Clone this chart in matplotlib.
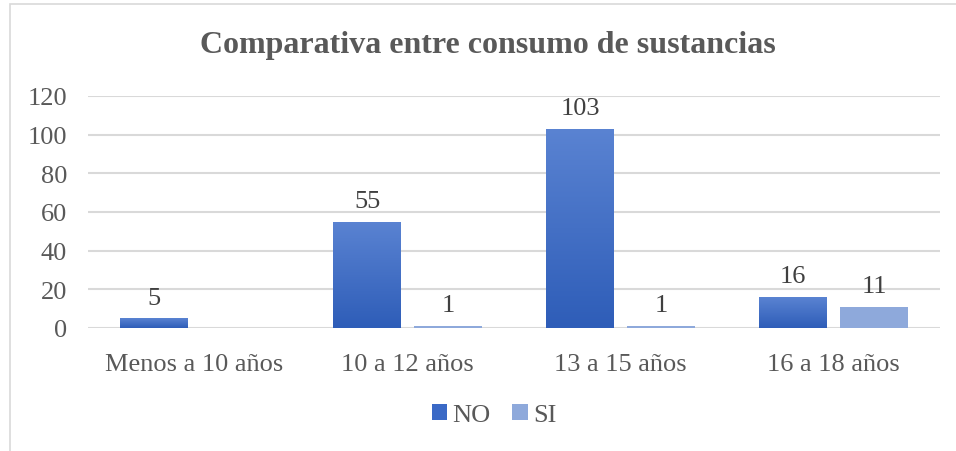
import matplotlib
matplotlib.use("Agg")
import matplotlib.pyplot as plt
import numpy as np
from matplotlib.patches import Rectangle
from matplotlib.colors import LinearSegmentedColormap

categories = ["Menos a 10 años", "10 a 12 años", "13 a 15 años", "16 a 18 años"]
no_vals = [5, 55, 103, 16]
si_vals = [0, 1, 1, 11]
no_labels = ["5", "55", "103", "16"]
si_labels = ["", "1", "1", "11"]
yticks = [0, 20, 40, 60, 80, 100, 120]

W, H = 956, 452
fig = plt.figure(figsize=(W/100, H/100), dpi=100)
plt.rcParams['font.family'] = ['Liberation Serif', 'DejaVu Serif']
txt = '#595959'
fs = 19

# outer chart frame
fig.patches.append(Rectangle((10/W, -0.1), 1.2, 1.1 - 5/H, transform=fig.transFigure,
                             fill=False, edgecolor='#D9D9D9', linewidth=1.2))

ax = fig.add_axes([88/W, 1-329/H, (940-88)/W, (329-97)/H])
for s in ax.spines.values():
    s.set_visible(False)
ax.set_yticks(yticks)
ax.set_yticklabels([str(v) for v in yticks])
ax.yaxis.grid(True, color='#D9D9D9', linewidth=1.5)
ax.set_axisbelow(True)
ax.tick_params(axis='both', length=0, labelsize=fs, colors=txt)
ax.tick_params(axis='y', pad=15)
ax.tick_params(axis='x', pad=18)
x = np.arange(len(categories))
ax.set_xticks(x)
ax.set_xticklabels(categories)

bw = 0.315
off = 0.19
grad = np.linspace(0, 1, 256).reshape(-1, 1)
cmap_no = LinearSegmentedColormap.from_list('no', ['#2E5DB8', '#5A83D2'])

bars_no = ax.bar(x - off, no_vals, bw, color='#3A69C6', zorder=2)
bars_si = ax.bar(x + off, si_vals, bw, color='#8EA9DB', zorder=2)
for b in bars_no:
    bx, by = b.get_x(), b.get_y()
    bwid, bh = b.get_width(), b.get_height()
    im = ax.imshow(grad, extent=[bx, bx + bwid, by, by + bh], origin='lower',
                   cmap=cmap_no, aspect='auto', zorder=3)
    im.set_clip_path(b)
ax.set_xlim(-0.5, 3.5)
ax.set_ylim(0, 120)

for xi, v, lab in zip(x, no_vals, no_labels):
    ax.annotate(lab, (xi - off, v), xytext=(0, 7), textcoords='offset points',
                ha='center', va='bottom', fontsize=fs, color='#404040')
for xi, v, lab in zip(x, si_vals, si_labels):
    if lab:
        ax.annotate(lab, (xi + off, v), xytext=(0, 7), textcoords='offset points',
                    ha='center', va='bottom', fontsize=fs, color='#404040')

fig.text(488/W, 1-46/H, "Comparativa entre consumo de sustancias", ha='center', va='center',
         fontsize=23, fontweight='bold', color=txt)

leg = fig.legend([bars_no, bars_si], ["NO", "SI"], loc='center', bbox_to_anchor=(494/W, 1-416/H),
                 ncol=2, frameon=False, fontsize=fs, handlelength=0.6, handleheight=0.6,
                 handletextpad=0.2, columnspacing=0.8, labelcolor=txt)

fig.savefig('out.png', dpi=100)
